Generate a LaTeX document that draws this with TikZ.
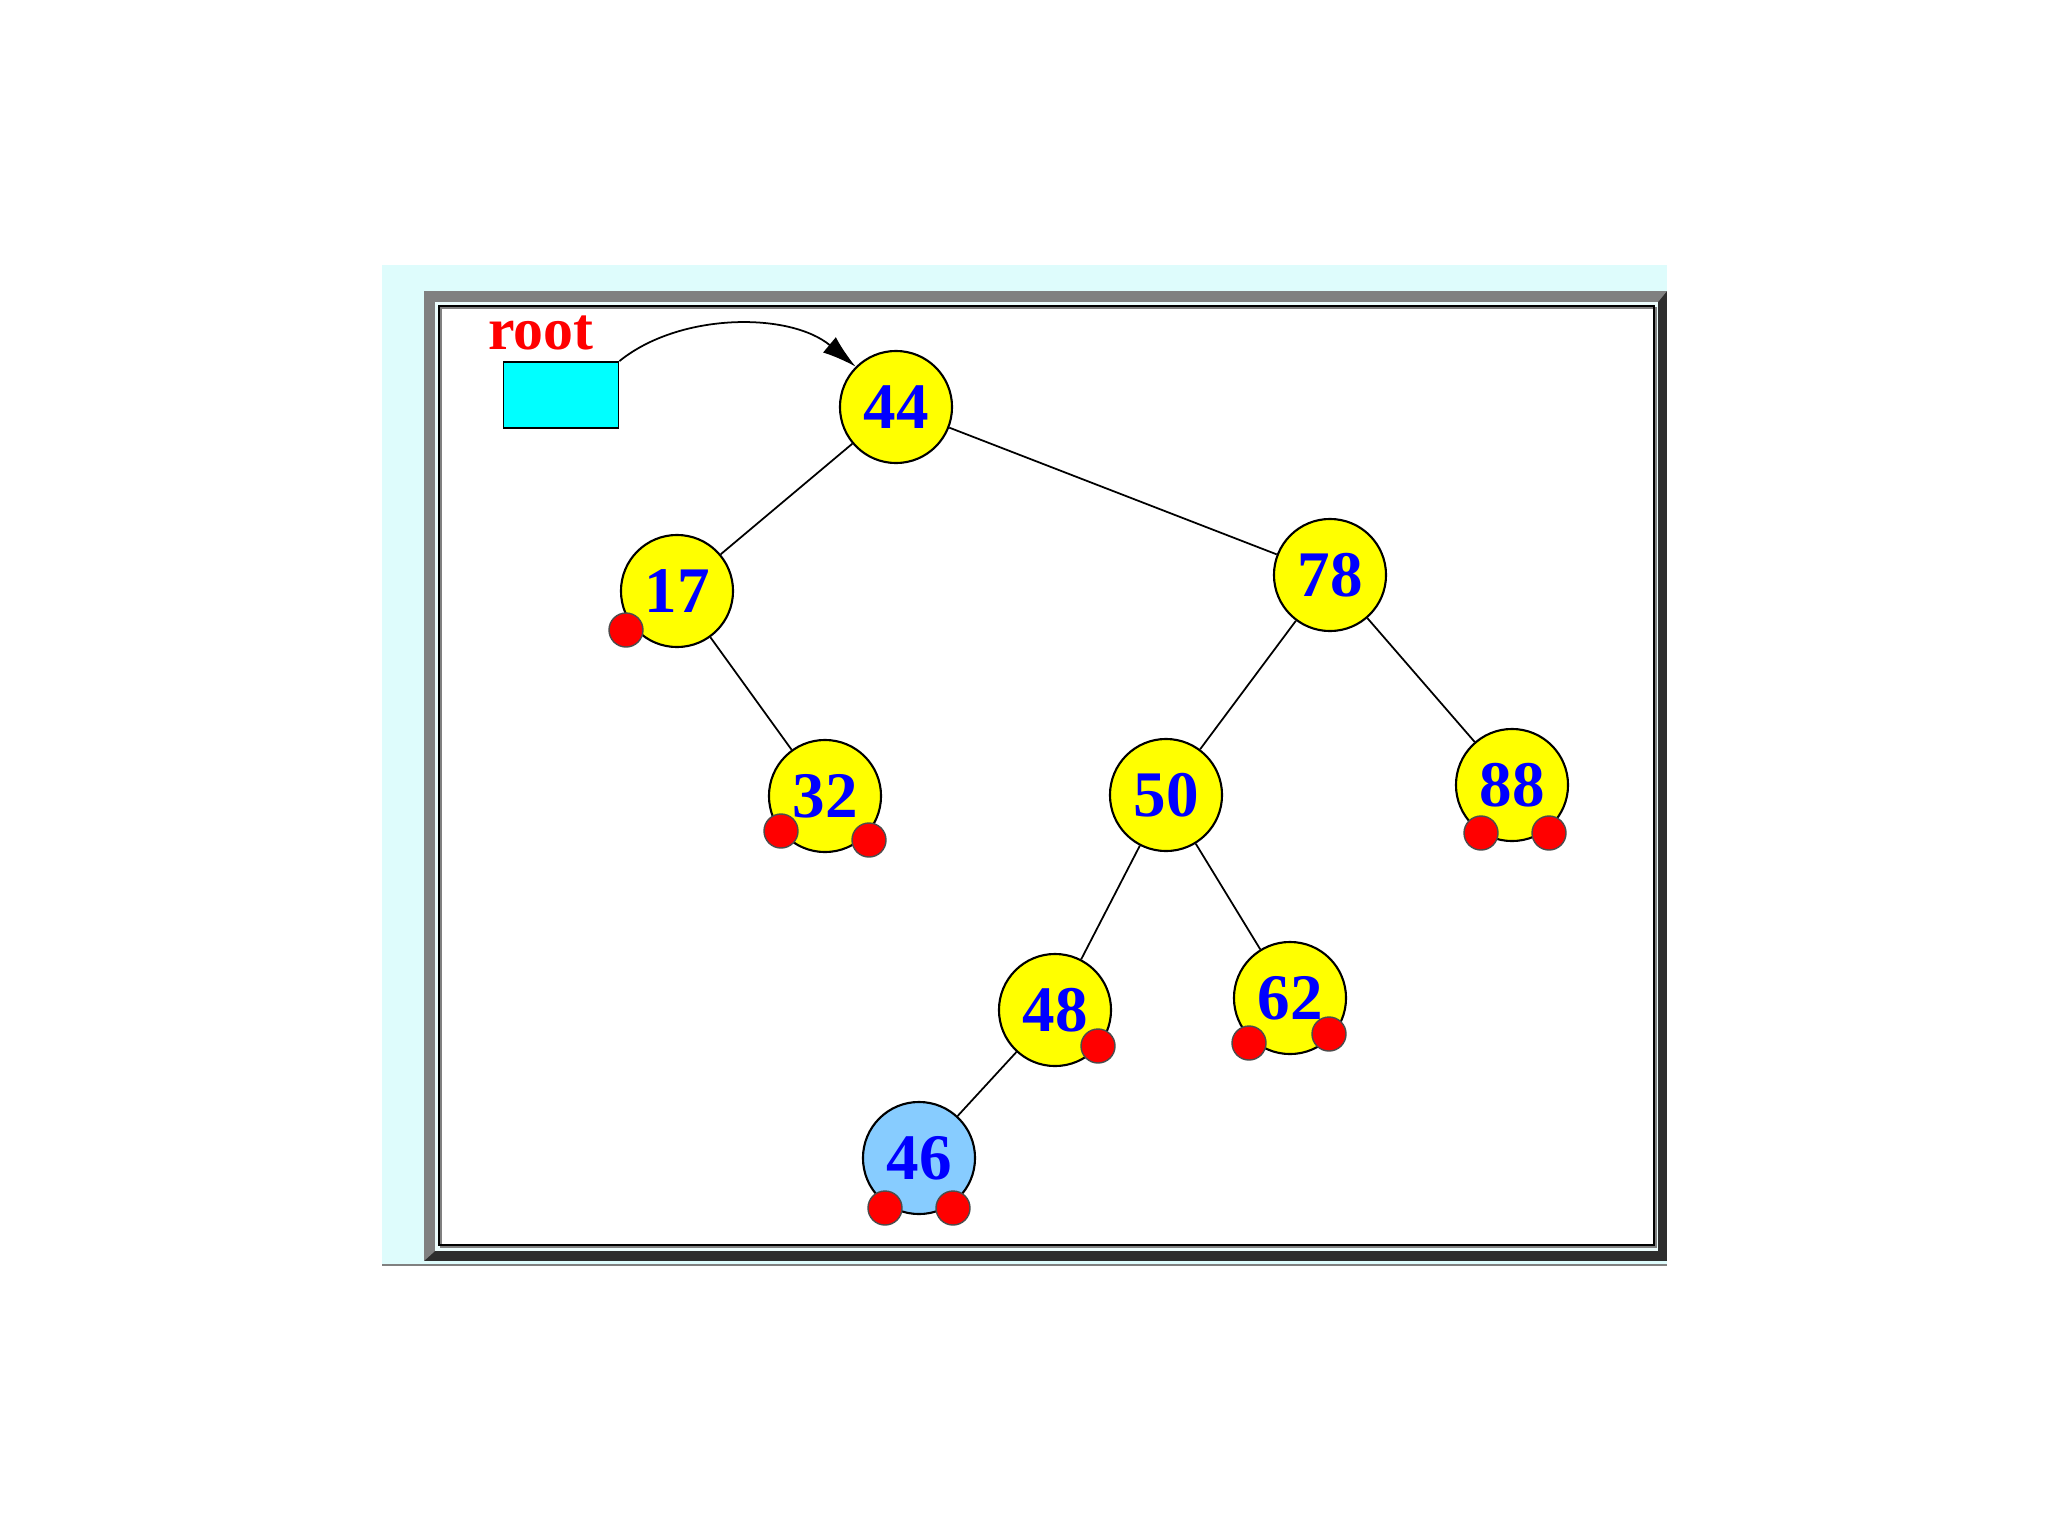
\documentclass[tikz,border=0pt]{standalone}
\usepackage{fontspec}
\setmainfont{Liberation Serif}
\usepackage{tikz}
\usetikzlibrary{arrows.meta}
\definecolor{keyyellow}{RGB}{255,255,0}
\definecolor{keyblue}{RGB}{0,0,255}
\definecolor{newblue}{RGB}{135,204,255}
\definecolor{rootcyan}{RGB}{0,255,255}
\definecolor{bgcyan}{RGB}{222,252,252}
\definecolor{panelcyan}{RGB}{236,252,252}
\definecolor{framegray}{RGB}{128,128,128}
\definecolor{framedark}{RGB}{45,45,45}
\tikzset{
  key/.style={circle, draw=black, line width=0.6pt, fill=keyyellow, minimum size=1.12cm, inner sep=0pt,
    text=keyblue, font=\fontsize{18.5}{20}\selectfont\bfseries},
  nil/.style={circle, draw=black!70, line width=0.4pt, fill=red, minimum size=0.34cm, inner sep=0pt},
  edge/.style={black, line width=0.5pt}
}

\begin{document}
\begin{tikzpicture}[x=0.01cm, y=-0.01cm]
        \useasboundingbox (0,0) rectangle (2048,1536);
        % window frame
        \fill[bgcyan] (382,265) rectangle (1667,1265);
        \draw[framegray, line width=0.5pt] (382,1265) -- (1667,1265);
        \fill[framedark] (424,291) rectangle (1667,1261);
        \fill[framegray] (424,291) -- (1667,291) -- (1658,302) -- (435,302) -- (435,1251) -- (424,1261) -- cycle;
        \fill[panelcyan] (435,302) rectangle (1658,1251);
        \fill[white] (439,306) rectangle (1654,1245);
        \draw[framegray, line width=0.5pt] (441,308) rectangle (1656,1247);
        \draw[black, line width=0.5pt] (439,306) rectangle (1654,1245);

        % root pointer
        \node[draw=black, line width=0.5pt, fill=rootcyan, minimum width=1.15cm, minimum height=0.66cm, inner sep=0pt]
            (root) at (561,395) {};
        \node[red, font=\fontsize{17}{19}\selectfont\bfseries] (rootlbl) at (541,333) {root};

        % keys
        \node[key] (n44) at (896,407) {44};
        \node[key] (n17) at (677,591) {17};
        \node[key] (n78) at (1330,575) {78};
        \node[key] (n32) at (825,796) {32};
        \node[key] (n50) at (1166,795) {50};
        \node[key] (n88) at (1512,785) {88};
        \node[key] (n48) at (1055,1010) {48};
        \node[key] (n62) at (1290,998) {62};
        \node[key, fill=newblue] (n46) at (919,1158) {46};

        \foreach \a/\b in {n44/n17, n44/n78, n17/n32, n78/n50, n78/n88, n50/n48, n50/n62, n48/n46} {
            \draw[edge] (\a) -- (\b);
        }

        % null links
        \node[nil] (n17l) at (626,630) {};
        \node[nil] (n32l) at (781,831) {};
        \node[nil] (n32r) at (869,840) {};
        \node[nil] (n88l) at (1481,833) {};
        \node[nil] (n88r) at (1549,833) {};
        \node[nil] (n48r) at (1098,1046) {};
        \node[nil] (n62l) at (1249,1043) {};
        \node[nil] (n62r) at (1329,1034) {};
        \node[nil] (n46l) at (885,1208) {};
        \node[nil] (n46r) at (953,1208) {};

        \draw[edge, -{Latex[length=0.34cm, width=0.2cm]}] (root.north east) .. controls (680,312) and (790,312) .. (n44.135);
    \end{tikzpicture}
\end{document}
